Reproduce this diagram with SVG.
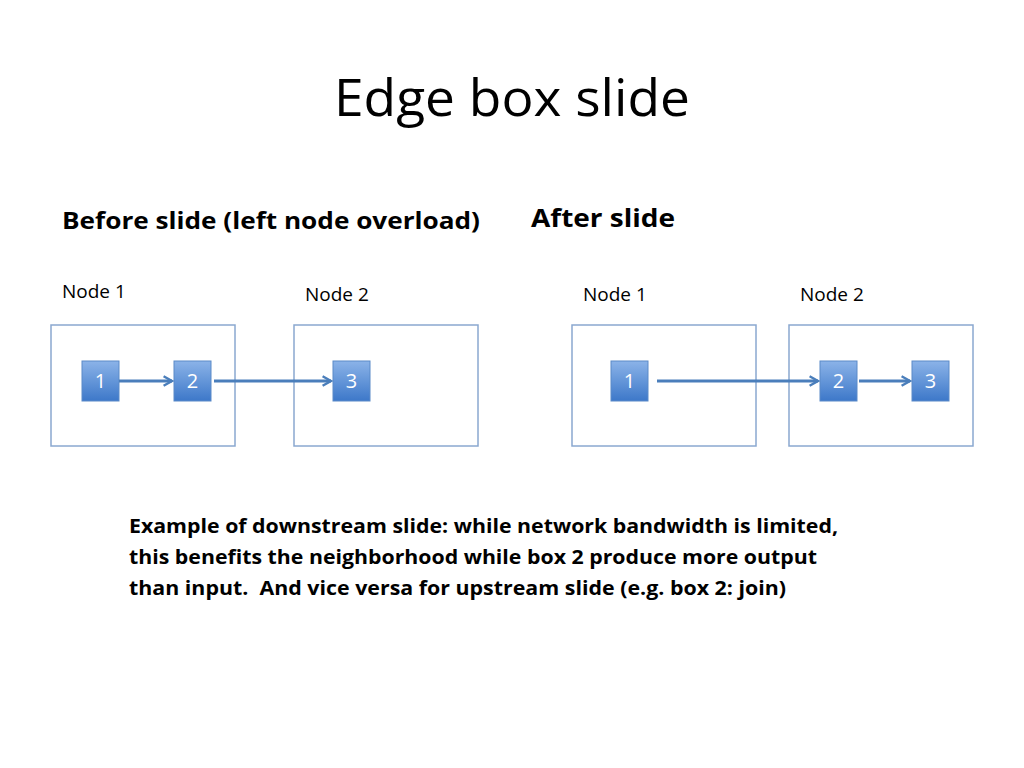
<svg xmlns="http://www.w3.org/2000/svg" width="1024" height="768" viewBox="0 0 1024 768">
<defs>
<linearGradient id="g" x1="0" y1="0" x2="0" y2="1"><stop offset="0" stop-color="#8bb3e8"/><stop offset="1" stop-color="#3d78c9"/></linearGradient>
<marker id="a" viewBox="0 0 10 10" refX="8" refY="5" markerWidth="4" markerHeight="4" orient="auto"><path d="M1,1 L8,5 L1,9" fill="none" stroke="#4a7ebb" stroke-width="2"/></marker>
</defs>
<style>
.t{font-family:"Open Sans","Liberation Sans",sans-serif;fill:#000}
.b{font-family:"Open Sans","Liberation Sans",sans-serif;font-weight:bold;fill:#000}
.n{fill:#fff;stroke:#8aa8d0;stroke-width:1.5}
.s{fill:url(#g);stroke:#5a8ac8;stroke-width:1}
.l{font-family:"Open Sans","Liberation Sans",sans-serif;fill:#fff;font-size:20px;text-anchor:middle}
.c{stroke:#4a7ebb;stroke-width:3;fill:none;marker-end:url(#a)}
</style>
<rect width="1024" height="768" fill="#fff"/>
<text class="t" x="334" y="116" font-size="52" textLength="356" lengthAdjust="spacingAndGlyphs">Edge box slide</text>
<text class="b" x="62" y="229" font-size="23" textLength="418" lengthAdjust="spacingAndGlyphs">Before slide (left node overload)</text>
<text class="b" x="531" y="227" font-size="25" textLength="144" lengthAdjust="spacingAndGlyphs">After slide</text>
<text class="t" x="62" y="298" font-size="19">Node 1</text>
<text class="t" x="305" y="301" font-size="19">Node 2</text>
<text class="t" x="583" y="301" font-size="19">Node 1</text>
<text class="t" x="800" y="301" font-size="19">Node 2</text>
<g id="nodeA1"><rect class="n" x="51" y="325" width="184" height="121"/></g>
<g id="nodeA2"><rect class="n" x="294" y="325" width="184" height="121"/></g>
<g id="nodeB1"><rect class="n" x="572" y="325" width="184" height="121"/></g>
<g id="nodeB2"><rect class="n" x="789" y="325" width="184" height="121"/></g>
<g id="a1"><rect class="s" x="82" y="361" width="37" height="40"/><text class="l" x="100.5" y="388">1</text></g>
<g id="a2"><rect class="s" x="174" y="361" width="37" height="40"/><text class="l" x="192.5" y="388">2</text></g>
<g id="a3"><rect class="s" x="333" y="361" width="37" height="40"/><text class="l" x="351.5" y="388">3</text></g>
<g id="b1"><rect class="s" x="611" y="361" width="37" height="40"/><text class="l" x="629.5" y="388">1</text></g>
<g id="b2"><rect class="s" x="820" y="361" width="37" height="40"/><text class="l" x="838.5" y="388">2</text></g>
<g id="b3"><rect class="s" x="912" y="361" width="37" height="40"/><text class="l" x="930.5" y="388">3</text></g>
<g id="connectors">
<line class="c" x1="119" y1="381" x2="172" y2="381"/>
<line class="c" x1="214" y1="381" x2="331" y2="381"/>
<line class="c" x1="657" y1="381" x2="818" y2="381"/>
<line class="c" x1="859" y1="381" x2="910" y2="381"/>
</g>
<g class="b" font-size="20">
<text x="129" y="533" textLength="709" lengthAdjust="spacingAndGlyphs">Example of downstream slide: while network bandwidth is limited,</text>
<text x="129" y="564" textLength="688" lengthAdjust="spacingAndGlyphs">this benefits the neighborhood while box 2 produce more output</text>
<text x="129" y="595" textLength="657" lengthAdjust="spacingAndGlyphs" xml:space="preserve">than input.  And vice versa for upstream slide (e.g. box 2: join)</text>
</g>
</svg>
